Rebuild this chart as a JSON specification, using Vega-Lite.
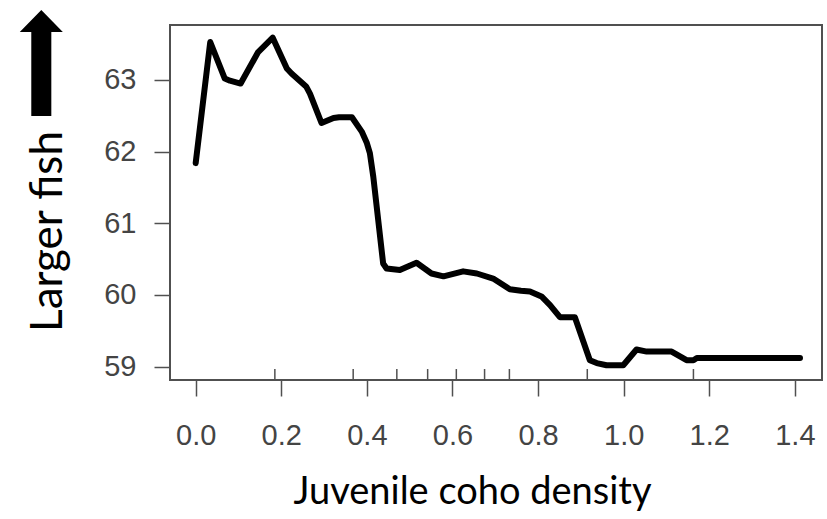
{
  "$schema": "https://vega.github.io/schema/vega-lite/v6.json",
  "width": 652,
  "height": 355,
  "autosize": "none",
  "padding": {"left": 170, "top": 25, "right": 5, "bottom": 139},
  "background": "white",
  "config": {
    "view": {"stroke": "#505050", "strokeWidth": 2}
  },
  "datasets": {
    "curve": [
      {"density": 0.000, "length": 61.84},
      {"density": 0.034, "length": 63.53},
      {"density": 0.068, "length": 63.02},
      {"density": 0.080, "length": 62.99},
      {"density": 0.105, "length": 62.95},
      {"density": 0.146, "length": 63.39},
      {"density": 0.180, "length": 63.59},
      {"density": 0.213, "length": 63.16},
      {"density": 0.224, "length": 63.09},
      {"density": 0.258, "length": 62.91},
      {"density": 0.267, "length": 62.81},
      {"density": 0.294, "length": 62.40},
      {"density": 0.322, "length": 62.47},
      {"density": 0.335, "length": 62.48},
      {"density": 0.365, "length": 62.48},
      {"density": 0.388, "length": 62.28},
      {"density": 0.400, "length": 62.12},
      {"density": 0.407, "length": 61.98},
      {"density": 0.415, "length": 61.65},
      {"density": 0.438, "length": 60.44},
      {"density": 0.446, "length": 60.37},
      {"density": 0.477, "length": 60.35},
      {"density": 0.516, "length": 60.45},
      {"density": 0.551, "length": 60.30},
      {"density": 0.579, "length": 60.26},
      {"density": 0.625, "length": 60.33},
      {"density": 0.657, "length": 60.30},
      {"density": 0.695, "length": 60.23},
      {"density": 0.734, "length": 60.08},
      {"density": 0.760, "length": 60.06},
      {"density": 0.781, "length": 60.05},
      {"density": 0.808, "length": 59.98},
      {"density": 0.828, "length": 59.86},
      {"density": 0.851, "length": 59.69},
      {"density": 0.886, "length": 59.69},
      {"density": 0.921, "length": 59.09},
      {"density": 0.937, "length": 59.05},
      {"density": 0.960, "length": 59.02},
      {"density": 0.999, "length": 59.02},
      {"density": 1.030, "length": 59.24},
      {"density": 1.054, "length": 59.21},
      {"density": 1.112, "length": 59.21},
      {"density": 1.147, "length": 59.09},
      {"density": 1.163, "length": 59.09},
      {"density": 1.171, "length": 59.12},
      {"density": 1.412, "length": 59.12}
    ],
    "deciles": [
      {"density": 0.185},
      {"density": 0.368},
      {"density": 0.470},
      {"density": 0.542},
      {"density": 0.609},
      {"density": 0.675},
      {"density": 0.733},
      {"density": 0.915},
      {"density": 1.163}
    ]
  },
  "layer": [
    {
      "data": {"name": "curve"},
      "mark": {"type": "line", "color": "black", "strokeWidth": 6, "strokeJoin": "round", "strokeCap": "round", "clip": true},
      "encoding": {
        "x": {
          "field": "density",
          "type": "quantitative",
          "scale": {"domain": [-0.06, 1.4634], "nice": false, "zero": false},
          "axis": {
            "title": "Juvenile coho density",
            "values": [0, 0.2, 0.4, 0.6, 0.8, 1.0, 1.2, 1.4],
            "format": ".1f",
            "domain": false,
            "grid": false,
            "tickSize": 16,
            "tickColor": "#505050",
            "tickWidth": 1.5,
            "labelFont": "Liberation Sans",
            "labelFontSize": 29,
            "labelColor": "#444444",
            "labelPadding": 25,
            "titleFont": "Lato",
            "titleFontSize": 38,
            "titleFontWeight": "normal",
            "titleColor": "black",
            "titlePadding": 23,
            "titleX": 302
          }
        },
        "y": {
          "field": "length",
          "type": "quantitative",
          "scale": {"domain": [58.814, 63.767], "nice": false, "zero": false},
          "axis": {
            "title": "Larger fish",
            "values": [59, 60, 61, 62, 63],
            "format": "d",
            "domain": false,
            "grid": false,
            "tickSize": 16,
            "tickColor": "#505050",
            "tickWidth": 1.5,
            "labelFont": "Liberation Sans",
            "labelFontSize": 29,
            "labelColor": "#444444",
            "labelPadding": 18,
            "titleFont": "Lato",
            "titleFontSize": 44,
            "titleFontWeight": "normal",
            "titleColor": "black",
            "titlePadding": 33,
            "titleY": 206
          }
        }
      }
    },
    {
      "data": {"name": "deciles"},
      "mark": {"type": "rule", "color": "#505050", "strokeWidth": 1.5},
      "encoding": {
        "x": {"field": "density", "type": "quantitative"},
        "y": {"datum": 58.814},
        "y2": {"datum": 58.967}
      }
    },
    {
      "data": {"values": [{"note": "Larger fish"}]},
      "mark": {
        "type": "point",
        "shape": "M0,-1L0.406,-0.585L0.189,-0.585L0.189,1L-0.189,1L-0.189,-0.585L-0.406,-0.585Z",
        "filled": true,
        "color": "black",
        "opacity": 1,
        "size": 11236
      },
      "encoding": {
        "x": {"datum": -0.3607},
        "y": {"datum": 63.237}
      }
    }
  ]
}
